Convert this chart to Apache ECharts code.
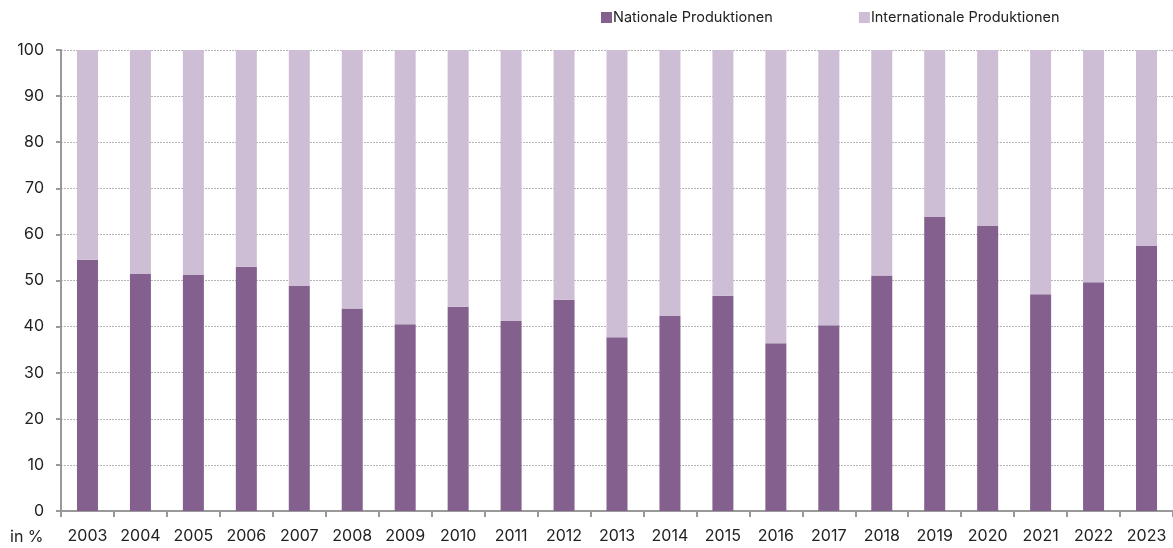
<!DOCTYPE html>
<html><head><meta charset="utf-8">
<script src="https://cdn.jsdelivr.net/npm/echarts@6/dist/echarts.min.js"></script>
<style>html,body{margin:0;padding:0;background:#fff}#c{width:1173px;height:548px}</style>
</head><body><div id="c"></div>
<script>
const years = ['2003','2004','2005','2006','2007','2008','2009','2010','2011','2012','2013','2014','2015','2016','2017','2018','2019','2020','2021','2022','2023'];
const national = [54.5,51.4,51.2,53.0,48.8,43.9,40.5,44.3,41.2,45.8,37.7,42.3,46.7,36.4,40.3,51.1,63.8,61.8,47.0,49.6,57.5];
const international = national.map(v => +(100 - v).toFixed(1));
const yTicks = [0,10,20,30,40,50,60,70,80,90,100];
const unitLabel = 'in %';
const seriesNames = ['Nationale Produktionen','Internationale Produktionen'];

const font = 'Inter, "Liberation Sans", sans-serif';
const chart = echarts.init(document.getElementById('c'));
chart.setOption({
  animation: false,
  textStyle: {fontFamily: font},
  legend: {
    top: 5, left: 596, itemGap: 86, itemWidth: 11, itemHeight: 11, icon: 'rect',
    textStyle: {fontSize: 14.5, color: '#222', fontFamily: font, padding: [0,0,0,-4]},
    data: seriesNames
  },
  grid: {left: 61, right: 0, top: 50, bottom: 37, containLabel: false},
  xAxis: {
    type: 'category', data: years,
    axisLine: {lineStyle: {color: '#999', width: 2}},
    axisTick: {show: true, length: 6, lineStyle: {color: '#999', width: 2}},
    axisLabel: {color: '#222', fontSize: 16, margin: 17, fontFamily: font}
  },
  yAxis: {
    type: 'value', min: yTicks[0], max: yTicks[yTicks.length-1], interval: 10,
    axisLine: {show: true, lineStyle: {color: '#999', width: 2}},
    axisTick: {show: true, length: 5, lineStyle: {color: '#999', width: 2}},
    axisLabel: {color: '#222', fontSize: 16, margin: 17, fontFamily: font},
    splitLine: {show: true, lineStyle: {color: '#b5b5b5', type: [2,1], width: 1}}
  },
  graphic: [{type: 'text', left: 10, top: 529, style: {text: unitLabel, fontSize: 16, fill: '#222', fontFamily: font}}],
  series: [
    {name: seriesNames[0], type: 'bar', stack: 's', data: national, barWidth: 21, itemStyle: {color: '#84608F'}},
    {name: seriesNames[1], type: 'bar', stack: 's', data: international, barWidth: 21, itemStyle: {color: '#CEBED5'}}
  ]
});
</script></body></html>
